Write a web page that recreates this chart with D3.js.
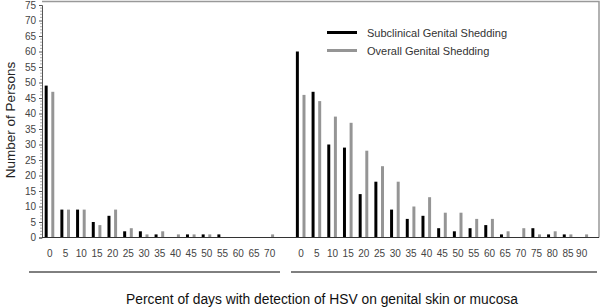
<!DOCTYPE html>
<meta charset="utf-8">
<style>
body { margin: 0; background: #fff; }
text { font-family: Arial, "Liberation Sans", sans-serif; }
</style>
<body>
<script src="https://d3js.org/d3.v7.min.js"></script>
<script>

var width = 600,
  height = 308;

// left group: first panel, right group: second panel
var leftCats = ["0","5","10","15","20","25","30","35","40","45","50","55","60","65","70"];
var leftSub = [49, 9, 9, 5, 7, 2, 2, 1, 0, 1, 1, 1, 0, 0, 0];
var leftAll = [47, 9, 9, 4, 9, 3, 1, 2, 1, 1, 1, 0, 0, 0, 1];

var rightCats = ["0","5","10","15","20","25","30","35","40","45","50","55","60","65","70","75","80","85","90"];
var rightSub = [60, 47, 30, 29, 14, 18, 9, 6, 7, 3, 2, 3, 4, 1, 0, 3, 1, 1, 0];
var rightAll = [46, 44, 39, 37, 28, 23, 18, 10, 13, 8, 8, 6, 6, 2, 3, 1, 2, 1, 1];

var yTicks = d3.range(0, 80, 5);
var seriesNames = ["Subclinical Genital Shedding", "Overall Genital Shedding"];
var colors = ["#000000", "#959595"];

// one slot per category, plus an empty slot between the two groups
var rows = [];
leftCats.forEach(function(c, i) {
  rows.push({key: "L" + c, label: c, vals: [leftSub[i], leftAll[i]]});
});
rows.push({key: "gap", label: "", vals: [0, 0]});
rightCats.forEach(function(c, i) {
  rows.push({key: "R" + c, label: c, vals: [rightSub[i], rightAll[i]]});
});

var plotL = 42, plotR = 599, plotT = 5, base = 237.5;

var x = d3.scaleBand()
  .domain(rows.map(function(d) { return d.key; }))
  .range([plotL, plotL + rows.length * 15.7]);

var x1 = d3.scaleBand()
  .domain([0, 1])
  .range([0, x.step()])
  .paddingInner(0.55)
  .paddingOuter(0.46)
  .align(0.44);

var y = d3.scaleLinear().domain([0, 75]).range([base, plotT]);

var svg = d3.select("body").append("svg")
  .attr("width", width)
  .attr("height", height);

// frame (top and right)
svg.append("path")
  .attr("d", "M" + plotL + ",1.5H" + plotR + "V" + base)
  .attr("fill", "none")
  .attr("stroke", "#999")
  .attr("stroke-width", 1.5);

// bars
var groups = svg.append("g").selectAll("g")
  .data(rows)
  .enter().append("g")
  .attr("transform", function(d) { return "translate(" + x(d.key) + ",0)"; });

groups.selectAll("rect")
  .data(function(d) { return d.vals.map(function(v, i) { return {i: i, v: v}; }).filter(function(e) { return e.v > 0; }); })
  .enter().append("rect")
  .attr("x", function(d) { return x1(d.i); })
  .attr("width", x1.bandwidth())
  .attr("y", function(d) { return y(d.v); })
  .attr("height", function(d) { return base - y(d.v); })
  .attr("fill", function(d) { return colors[d.i]; });

// y axis with minor ticks
var yAxis = svg.append("g")
  .attr("transform", "translate(" + plotL + ",0)")
  .call(d3.axisLeft(y).tickValues(yTicks).tickSize(3).tickPadding(3));
yAxis.select(".domain").attr("stroke", "#555");
yAxis.selectAll(".tick line").attr("stroke", "#555");
yAxis.selectAll("text").attr("font-size", 10).attr("fill", "#444")
  .attr("font-family", "Arial, 'Liberation Sans', sans-serif");

svg.append("g")
  .attr("transform", "translate(" + plotL + ",0)")
  .selectAll("line")
  .data(d3.range(0, 76, 1).filter(function(v) { return v % 5 !== 0; }))
  .enter().append("line")
  .attr("x1", -2).attr("x2", 0)
  .attr("y1", function(v) { return y(v); })
  .attr("y2", function(v) { return y(v); })
  .attr("stroke", "#777")
  .attr("stroke-width", 0.6);

// baseline
svg.append("line")
  .attr("x1", plotL).attr("x2", plotR)
  .attr("y1", base).attr("y2", base)
  .attr("stroke", "#333");

// x tick labels
var xAxis = svg.append("g")
  .attr("transform", "translate(0," + base + ")")
  .call(d3.axisBottom(x).tickSize(0).tickPadding(12)
    .tickFormat(function(k) { return rows.find(function(r) { return r.key === k; }).label; }));
xAxis.select(".domain").remove();
xAxis.selectAll("text").attr("font-size", 10).attr("fill", "#444")
  .attr("font-family", "Arial, 'Liberation Sans', sans-serif");
// the last label sits a little left in the original
xAxis.selectAll(".tick").filter(function(k) { return k === "R90"; })
  .select("text").attr("dx", -2);

// group underlines
svg.append("line")
  .attr("x1", 29).attr("x2", 280).attr("y1", 272).attr("y2", 272)
  .attr("stroke", "#000");
svg.append("line")
  .attr("x1", 291).attr("x2", 597).attr("y1", 272).attr("y2", 272)
  .attr("stroke", "#000");

// axis titles
svg.append("text")
  .attr("transform", "translate(15,120) rotate(-90)")
  .attr("text-anchor", "middle")
  .attr("font-size", 13.5)
  .attr("fill", "#222")
  .text("Number of Persons");

svg.append("text")
  .attr("x", 322).attr("y", 304)
  .attr("text-anchor", "middle")
  .attr("font-size", 13.8)
  .attr("fill", "#111")
  .text("Percent of days with detection of HSV on genital skin or mucosa");

// legend
var legend = svg.append("g").selectAll("g")
  .data(seriesNames)
  .enter().append("g")
  .attr("transform", function(d, i) { return "translate(327," + (32.5 + i * 18) + ")"; });

legend.append("line")
  .attr("x1", 0).attr("x2", 30)
  .attr("stroke", function(d, i) { return colors[i]; })
  .attr("stroke-width", 3);

legend.append("text")
  .attr("x", 40).attr("y", 4)
  .attr("font-size", 11)
  .attr("fill", "#333")
  .text(function(d) { return d; });

</script>
</body>
</html>
